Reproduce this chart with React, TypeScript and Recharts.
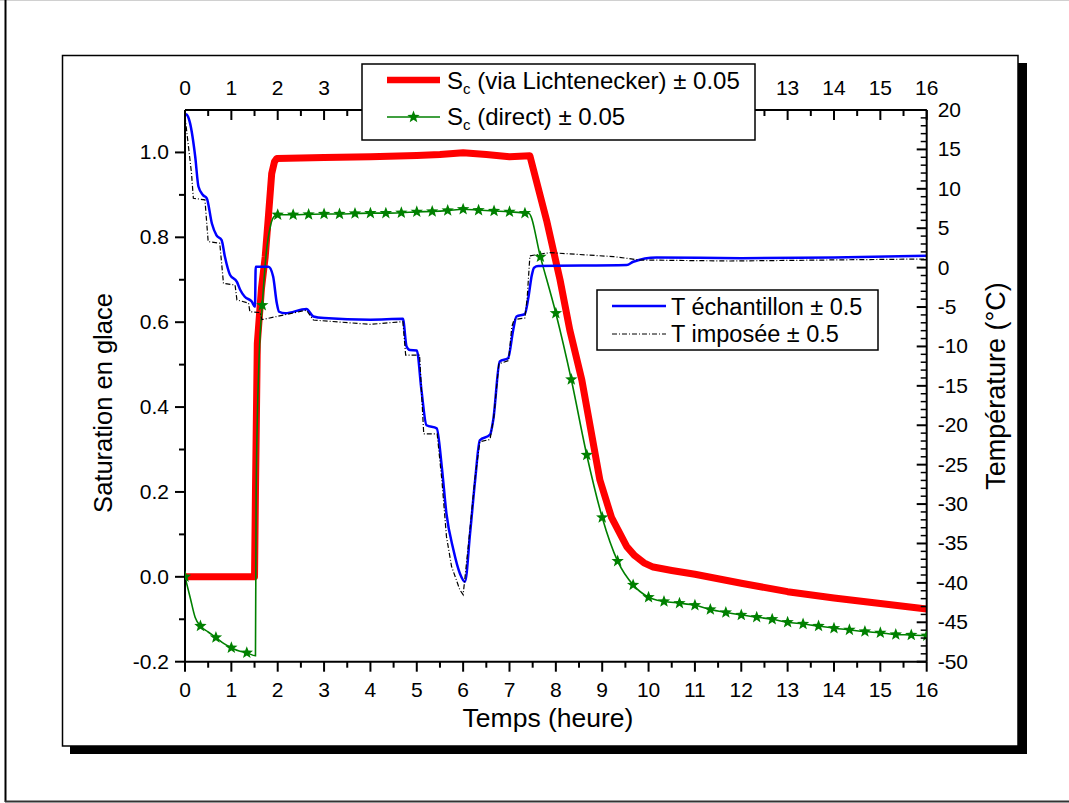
import React from "react";
import { ComposedChart, Line, Scatter, XAxis, YAxis } from "recharts";

const FONT = '"Liberation Sans", Arial, sans-serif';

// S_c via Lichtenecker (left axis)
const redT = [0, 1.5, 1.52, 1.56, 1.65, 1.73, 1.8, 1.87, 1.93, 1.98, 2.5, 3, 4, 5, 5.5, 6, 6.5, 7, 7.44, 7.8, 8.09, 8.3, 8.56, 8.95, 9.2, 9.53, 9.7, 9.9, 10.1, 10.5, 11, 12, 13, 14, 15, 16];
const redV = [0, 0, 0.2, 0.55, 0.68, 0.754, 0.85, 0.95, 0.978, 0.986, 0.987, 0.988, 0.99, 0.993, 0.995, 0.999, 0.995, 0.99, 0.992, 0.84, 0.7, 0.582, 0.464, 0.228, 0.14, 0.071, 0.05, 0.033, 0.023, 0.015, 0.006, -0.015, -0.035, -0.05, -0.063, -0.076];

// S_c direct (left axis) - star markers every 20 min
const starT = [0, 0.333, 0.667, 1, 1.333, 1.667, 2, 2.333, 2.667, 3, 3.333, 3.667, 4, 4.333, 4.667, 5, 5.333, 5.667, 6, 6.333, 6.667, 7, 7.333, 7.667, 8, 8.333, 8.667, 9, 9.333, 9.667, 10, 10.333, 10.667, 11, 11.333, 11.667, 12, 12.333, 12.667, 13, 13.333, 13.667, 14, 14.333, 14.667, 15, 15.333, 15.667, 16];
const starV = [0, -0.116, -0.143, -0.167, -0.179, 0.64, 0.853, 0.853, 0.854, 0.855, 0.855, 0.856, 0.857, 0.857, 0.858, 0.86, 0.861, 0.863, 0.866, 0.864, 0.862, 0.86, 0.857, 0.754, 0.621, 0.465, 0.287, 0.14, 0.037, -0.019, -0.048, -0.058, -0.062, -0.067, -0.077, -0.084, -0.09, -0.095, -0.1, -0.107, -0.111, -0.116, -0.121, -0.125, -0.129, -0.132, -0.136, -0.137, -0.139];
// extra points of the direct curve between markers
const greenExtraT = [0.11, 0.22, 0.5, 0.85, 1.17, 1.52, 1.535, 1.6, 1.75, 1.85, 1.93, 7.42];
const greenExtraV = [-0.048, -0.096, -0.13, -0.158, -0.175, -0.186, 0.2, 0.52, 0.76, 0.83, 0.85, 0.856];

// T échantillon (right axis)
const blueT = [0, 0.04, 0.11, 0.22, 0.29, 0.39, 0.47, 0.58, 0.68, 0.79, 0.86, 0.97, 1.12, 1.19, 1.29, 1.44, 1.51, 1.525, 1.8, 1.9, 1.98, 2.03, 2.16, 2.62, 2.77, 3, 4, 4.7, 4.78, 4.85, 5, 5.1, 5.21, 5.43, 5.54, 5.64, 5.79, 5.93, 6.04, 6.15, 6.26, 6.36, 6.58, 6.65, 6.79, 6.97, 7.08, 7.15, 7.33, 7.41, 7.48, 7.53, 7.62, 9.53, 9.67, 10.17, 12, 14, 16];
const blueV = [19.5, 19.4, 18.3, 14.1, 10.3, 9.2, 8.8, 5.6, 4.1, 3.5, 1.4, -0.9, -1.8, -2.8, -3.7, -4.3, -4.96, 0.1, 0.1, -1.1, -4.5, -5.6, -5.8, -5.25, -6.2, -6.4, -6.6, -6.5, -10, -10.45, -10.5, -15.5, -20, -20.4, -25.3, -31.2, -35.8, -38.8, -39.85, -33.7, -26.9, -21.9, -21.2, -19.3, -11.9, -11.5, -7.9, -6.2, -5.9, -3.7, -1, 0, 0.2, 0.33, 0.75, 1.3, 1.2, 1.3, 1.5];

// T imposée (right axis)
const blackT = [0, 0.14, 0.18, 0.43, 0.5, 0.75, 0.83, 1.08, 1.12, 1.37, 1.4, 1.62, 1.66, 2.62, 2.77, 4, 4.7, 4.76, 5.06, 5.15, 5.44, 5.54, 5.64, 5.75, 5.93, 6, 6.11, 6.26, 6.36, 6.58, 6.66, 6.77, 6.98, 7.05, 7.1, 7.33, 7.38, 7.44, 7.87, 9.24, 9.81, 11.76, 16];
const blackV = [19.2, 12, 8.8, 8.6, 3.3, 3.1, -2, -2.2, -4.1, -4.5, -5.6, -5.7, -6.6, -5.4, -6.65, -7.2, -6.85, -11.1, -11.1, -21.1, -21.1, -26.9, -34.1, -37.9, -40.9, -41.5, -35.4, -26.5, -22.1, -21.8, -19, -12.2, -11.8, -7.5, -6.6, -6.4, -4, 1.5, 1.9, 1.4, 0.97, 0.84, 1.1];

// labelled ticks (top labels 4..12 sit behind the legend box)
const xMajor = [0, 1, 2, 3, 4, 5, 6, 7, 8, 9, 10, 11, 12, 13, 14, 15, 16];
const topLabels = [0, 1, 2, 3, 13, 14, 15, 16];
const leftMajor = [-0.2, 0, 0.2, 0.4, 0.6, 0.8, 1.0];
const rightMajor = [-50, -45, -40, -35, -30, -25, -20, -15, -10, -5, 0, 5, 10, 15, 20];

function range(a: number, b: number, step: number) {
  const out: number[] = [];
  const n = Math.round((b - a) / step);
  for (let i = 0; i <= n; i++) out.push(+(a + i * step).toFixed(4));
  return out;
}
const has = (arr: number[], v: number) => arr.some((m) => Math.abs(m - v) < 1e-6);

const xTicks = range(0, 16, 0.5);
const leftTicks = range(-0.2, 1.0, 0.1);
const rightTicks = range(-50, 20, 1);

const redData = redT.map((t, i) => ({ t, v: redV[i] }));
const starData = starT.map((t, i) => ({ t, v: starV[i] }));
const greenData = [...starData, ...greenExtraT.map((t, i) => ({ t, v: greenExtraV[i] }))].sort((a, b) => a.t - b.t);
const blueData = blueT.map((t, i) => ({ t, v: blueV[i] }));
const blackData = blackT.map((t, i) => ({ t, v: blackV[i] }));

const TICK_FS = 21;

function StarMark({ cx, cy, r = 6.5 }: { cx?: number; cy?: number; r?: number }) {
  if (cx == null || cy == null) return null;
  const pts: string[] = [];
  for (let i = 0; i < 10; i++) {
    const rad = i % 2 === 0 ? r : r * 0.42;
    const a = -Math.PI / 2 + (i * Math.PI) / 5;
    pts.push(`${cx + rad * Math.cos(a)},${cy + rad * Math.sin(a)}`);
  }
  return <polygon points={pts.join(" ")} fill="#008000" />;
}

function BottomTick({ x, y, payload }: any) {
  const v = payload.value;
  const major = has(xMajor, v);
  return (
    <g>
      <line x1={x} y1={y} x2={x} y2={y + (major ? 10 : 6)} stroke="#000" strokeWidth={2} />
      {major && (
        <text x={x} y={y + 35} textAnchor="middle" fontSize={TICK_FS} fontFamily={FONT} fill="#000">
          {v}
        </text>
      )}
    </g>
  );
}

function TopTick({ x, y, payload }: any) {
  const v = payload.value;
  const major = has(xMajor, v);
  return (
    <g>
      <line x1={x} y1={y} x2={x} y2={y + (major ? 10 : 6)} stroke="#000" strokeWidth={2} />
      {has(topLabels, v) && (
        <text x={x} y={y - 15} textAnchor="middle" fontSize={TICK_FS} fontFamily={FONT} fill="#000">
          {v}
        </text>
      )}
    </g>
  );
}

function LeftTick({ x, y, payload }: any) {
  const v = payload.value;
  const major = has(leftMajor, v);
  return (
    <g>
      <line x1={x} y1={y} x2={x - (major ? 10 : 6)} y2={y} stroke="#000" strokeWidth={2} />
      {major && (
        <text x={x - 16} y={y + 7} textAnchor="end" fontSize={TICK_FS} fontFamily={FONT} fill="#000">
          {v.toFixed(1)}
        </text>
      )}
    </g>
  );
}

function RightTick({ x, y, payload }: any) {
  const v = payload.value;
  const major = has(rightMajor, v);
  return (
    <g>
      <line x1={x} y1={y} x2={x - (major ? 10 : 6)} y2={y} stroke="#000" strokeWidth={major ? 2 : 1.5} />
      {major && (
        <text x={x + 11} y={y + 7} textAnchor="start" fontSize={TICK_FS} fontFamily={FONT} fill="#000">
          {v}
        </text>
      )}
    </g>
  );
}

const axisLine = { stroke: "#000", strokeWidth: 2 };

export default function App() {
  return (
    <div style={{ position: "absolute", left: 0, top: 0, width: 1069, height: 803, background: "#fff" }}>
      {/* page frame + shadowed panel */}
      <svg width={1069} height={803} style={{ position: "absolute", left: 0, top: 0 }}>
        <line x1={0} y1={0.5} x2={1069} y2={0.5} stroke="#d0d0d0" strokeWidth={1} />
        <line x1={5.5} y1={0} x2={5.5} y2={802} stroke="#000" strokeWidth={2} />
        <line x1={5} y1={801.5} x2={1069} y2={801.5} stroke="#333" strokeWidth={2} />
        <rect x={70} y={63} width={957} height={691} fill="#000" />
        <rect x={62.5} y={55.5} width={955.5} height={690.5} fill="#fff" stroke="#000" strokeWidth={1.5} />
      </svg>

      <div style={{ position: "absolute", left: 0, top: 0 }}>
        <ComposedChart width={1069} height={803} margin={{ top: 70, right: 62.3, bottom: 101.3, left: 0 }}>
          <XAxis
            xAxisId="bottom"
            dataKey="t"
            type="number"
            domain={[0, 16]}
            ticks={xTicks}
            interval={0}
            orientation="bottom"
            height={40}
            tickSize={0}
            tickMargin={0}
            tickLine={false}
            axisLine={axisLine}
            tick={BottomTick}
            allowDataOverflow
          />
          <XAxis
            xAxisId="top"
            dataKey="t"
            type="number"
            domain={[0, 16]}
            ticks={xTicks}
            interval={0}
            orientation="top"
            height={40}
            tickSize={0}
            tickMargin={0}
            tickLine={false}
            axisLine={axisLine}
            tick={TopTick}
            allowDataOverflow
          />
          <YAxis
            yAxisId="left"
            type="number"
            domain={[-0.2, 1.1]}
            ticks={leftTicks}
            interval={0}
            width={185}
            tickSize={0}
            tickMargin={0}
            tickLine={false}
            axisLine={axisLine}
            tick={LeftTick}
            allowDataOverflow
          />
          <YAxis
            yAxisId="right"
            orientation="right"
            type="number"
            domain={[-50, 20]}
            ticks={rightTicks}
            interval={0}
            width={80}
            tickSize={0}
            tickMargin={0}
            tickLine={false}
            axisLine={axisLine}
            tick={RightTick}
            allowDataOverflow
          />

          <Line
            data={redData}
            dataKey="v"
            xAxisId="bottom"
            yAxisId="left"
            type="linear"
            stroke="#ff0000"
            strokeWidth={7}
            strokeLinejoin="round"
            dot={false}
            activeDot={false}
            isAnimationActive={false}
          />
          <Line
            data={greenData}
            dataKey="v"
            xAxisId="bottom"
            yAxisId="left"
            type="monotone"
            stroke="#008000"
            strokeWidth={1.6}
            dot={false}
            activeDot={false}
            isAnimationActive={false}
          />
          <Scatter
            data={starData}
            dataKey="v"
            xAxisId="bottom"
            yAxisId="left"
            shape={(p: any) => <StarMark cx={p.cx} cy={p.cy} />}
            isAnimationActive={false}
          />
          <Line
            data={blueData}
            dataKey="v"
            xAxisId="bottom"
            yAxisId="right"
            type="monotone"
            stroke="#0000ff"
            strokeWidth={2.5}
            dot={false}
            activeDot={false}
            isAnimationActive={false}
          />
          <Line
            data={blackData}
            dataKey="v"
            xAxisId="bottom"
            yAxisId="right"
            type="linear"
            stroke="#000"
            strokeWidth={1.2}
            strokeDasharray="5 2 1 2"
            dot={false}
            activeDot={false}
            isAnimationActive={false}
          />
        </ComposedChart>
      </div>

      {/* titles and legends */}
      <svg
        width={1069}
        height={803}
        style={{ position: "absolute", left: 0, top: 0, pointerEvents: "none" }}
        fontFamily={FONT}
        fill="#000"
      >
        <text x={548} y={727} textAnchor="middle" fontSize={26.5}>
          Temps (heure)
        </text>
        <text transform="translate(112,403) rotate(-90)" textAnchor="middle" fontSize={25.5}>
          Saturation en glace
        </text>
        <text transform="translate(1005,386) rotate(-90)" textAnchor="middle" fontSize={27}>
          Température (°C)
        </text>

        <rect x={362} y={64} width={393} height={76} fill="#fff" stroke="#000" strokeWidth={1.5} />
        <line x1={387} y1={80} x2={440} y2={80} stroke="#ff0000" strokeWidth={6.5} />
        <text x={447} y={89} fontSize={24}>
          S<tspan dy={5} fontSize={15}>c</tspan>
          <tspan dy={-5}> (via Lichtenecker) ± 0.05</tspan>
        </text>
        <line x1={387} y1={117} x2={440} y2={117} stroke="#008000" strokeWidth={1.6} />
        <StarMark cx={413.5} cy={117} />
        <text x={447} y={125} fontSize={24}>
          S<tspan dy={5} fontSize={15}>c</tspan>
          <tspan dy={-5}> (direct) ± 0.05</tspan>
        </text>

        <rect x={597} y={290} width={281} height={60} fill="#fff" stroke="#000" strokeWidth={1.5} />
        <line x1={612} y1={306} x2={666} y2={306} stroke="#0000ff" strokeWidth={2.5} />
        <text x={671} y={315} fontSize={23.5}>
          T échantillon ± 0.5
        </text>
        <line x1={612} y1={334} x2={666} y2={334} stroke="#000" strokeWidth={1.2} strokeDasharray="5 2 1 2" />
        <text x={671} y={342} fontSize={23.5}>
          T imposée ± 0.5
        </text>
      </svg>
    </div>
  );
}
